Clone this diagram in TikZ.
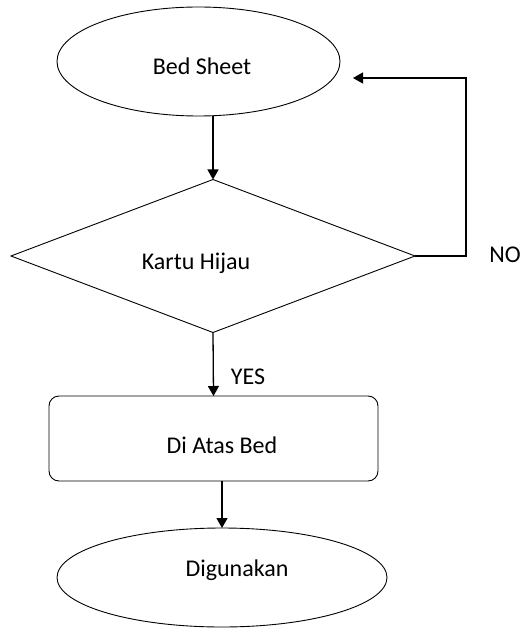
\documentclass[tikz,border=0pt]{standalone}
\usepackage{fontspec}
\setmainfont{Carlito}
\usetikzlibrary{shapes.geometric,arrows.meta}
\tikzset{
  shp/.style={draw=black, line width=0.9pt, inner sep=0pt, outer sep=0pt},
  ell/.style={shp, ellipse},
  dia/.style={shp, diamond},
  box/.style={shp, rectangle, rounded corners=10pt},
  arr/.style={draw=black, line width=1.3pt, -{Triangle[length=10pt,width=11pt]}},
  txt/.style={inner sep=0pt, text=black}
}
\begin{document}
\begin{tikzpicture}[x=1pt,y=-1pt,font=\fontsize{24}{28}\selectfont]
\useasboundingbox (0,0) rectangle (521,628);
\node[ell, minimum width=283pt, minimum height=109pt,
  label={[txt,name=tbs,xshift=3.5pt,yshift=-5pt]center:Bed Sheet}] (bs) at (198.5,61.5) {};
\node[dia, minimum width=404pt, minimum height=153pt,
  label={[txt,name=tkh,xshift=-17pt,yshift=-7pt]center:Kartu Hijau}] (kh) at (213,256) {};
\node[box, minimum width=329pt, minimum height=85pt,
  label={[txt,name=tdab,xshift=8.5pt,yshift=-7pt]center:Di Atas Bed}] (dab) at (213.5,438.5) {};
\node[ell, minimum width=330pt, minimum height=99pt,
  label={[txt,name=tdg,xshift=15pt,yshift=7pt]center:Digunakan}] (dg) at (222,577.5) {};
\node[txt] (no) at (505,255) {NO};
\node[txt] (yes) at (248,377) {YES};
\coordinate (nc) at (466,256);
\coordinate (ne) at (353,78);
\draw[arr] (kh.north |- bs.south) -- (kh.north);
\draw[arr] (kh.south) -- (dab.north);
\draw[arr] (dg.north |- dab.south) -- (dg.north);
\draw[arr] (kh.east) -- (nc) |- (ne);
\end{tikzpicture}
\end{document}
